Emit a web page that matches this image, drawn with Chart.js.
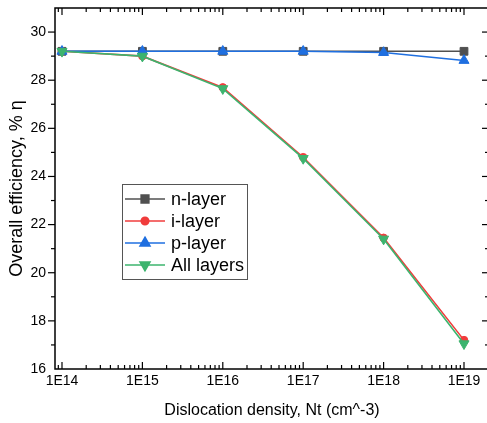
<!DOCTYPE html>
<html>
<head>
<meta charset="utf-8">
<script src="https://cdn.jsdelivr.net/npm/chart.js@4.4.0/dist/chart.umd.min.js"></script>
<style>
  html, body { margin: 0; padding: 0; background: #fff; overflow: hidden; }
  #wrap { width: 496px; height: 423px; }
</style>
</head>
<body>
<div id="wrap"><canvas id="effChart" width="496" height="423"></canvas></div>
<script>
const densities = [1e14, 1e15, 1e16, 1e17, 1e18, 1e19];
const densityLabels = ["1E14", "1E15", "1E16", "1E17", "1E18", "1E19"];
const nLayer = [29.2, 29.2, 29.2, 29.2, 29.2, 29.2];
const iLayer = [29.2, 29.0, 27.7, 24.8, 21.45, 17.2];
const pLayer = [29.2, 29.2, 29.2, 29.2, 29.15, 28.82];
const allLayers = [29.2, 29.0, 27.65, 24.75, 21.4, 17.05];
const yTicks = [16, 18, 20, 22, 24, 26, 28, 30];

const FONT = "'Liberation Sans', Arial, sans-serif";

const series = [
  { label: "n-layer", data: nLayer, color: "#505050", style: "rect", radius: 5.5, rot: 0, order: 3 },
  { label: "i-layer", data: iLayer, color: "#f03c3c", style: "circle", radius: 3.8, rot: 0, order: 2 },
  { label: "p-layer", data: pLayer, color: "#1f6fe0", style: "triangle", radius: 5.8, rot: 0, order: 1 },
  { label: "All layers", data: allLayers, color: "#3cb46e", style: "triangle", radius: 5.8, rot: 180, order: 0 },
];

// box frame + inside/outside tick marks like the original plot
const frameTicks = {
  id: "frameTicks",
  beforeDatasetsDraw(chart) {
    const { ctx, chartArea: a, scales: { x, y } } = chart;
    ctx.save();
    ctx.strokeStyle = "#000";
    ctx.lineWidth = 1.5;
    ctx.strokeRect(a.left, a.top, a.right - a.left, a.bottom - a.top);
    ctx.lineWidth = 1.2;
    const seg = (x1, y1, x2, y2) => {
      ctx.beginPath(); ctx.moveTo(x1, y1); ctx.lineTo(x2, y2); ctx.stroke();
    };
    for (let e = 13; e <= 19; e++) {
      for (let k = 1; k <= 9; k++) {
        const px = x.getPixelForValue(k * Math.pow(10, e));
        if (px < a.left + 1 || px > a.right - 1) continue;
        const len = k === 1 ? 7 : 4;
        seg(px, a.bottom, px, a.bottom - len);
        seg(px, a.top, px, a.top + len);
      }
    }
    for (let v = 16; v <= 31; v++) {
      const py = y.getPixelForValue(v);
      if (py < a.top + 1 || py > a.bottom - 1) continue;
      const len = v % 2 === 0 ? 7 : 4;
      seg(a.left - len, py, a.left, py);
      seg(a.right, py, a.right - len, py);
    }
    ctx.restore();
  }
};

const legendBox = {
  id: "legendBox",
  afterDatasetsDraw(chart) {
    const { ctx } = chart;
    const x0 = 122, y0 = 184, w = 125, h = 95;
    ctx.save();
    ctx.fillStyle = "#fff";
    ctx.fillRect(x0, y0, w, h);
    ctx.strokeStyle = "#555";
    ctx.lineWidth = 1;
    ctx.strokeRect(x0 + 0.5, y0 + 0.5, w, h);
    ctx.font = "18px " + FONT;
    ctx.textBaseline = "middle";
    series.forEach((s, i) => {
      const cy = y0 + 15 + i * 22;
      ctx.strokeStyle = s.color;
      ctx.lineWidth = 1.5;
      ctx.beginPath(); ctx.moveTo(x0 + 3, cy); ctx.lineTo(x0 + 43, cy); ctx.stroke();
      ctx.fillStyle = s.color;
      Chart.helpers.drawPoint(ctx, { pointStyle: s.style, radius: s.radius, rotation: s.rot, borderWidth: 1 }, x0 + 23, cy);
      ctx.fill();
      ctx.fillStyle = "#000";
      ctx.fillText(s.label, x0 + 49, cy + 1);
    });
    ctx.restore();
  }
};

new Chart(document.getElementById("effChart"), {
  type: "line",
  data: {
    datasets: series.map(s => ({
      label: s.label,
      data: s.data.map((v, i) => ({ x: densities[i], y: v })),
      borderColor: s.color,
      backgroundColor: s.color,
      borderWidth: 1.6,
      pointStyle: s.style,
      pointRadius: s.radius,
      pointRotation: s.rot,
      pointBorderWidth: 1,
      order: s.order,
      clip: false,
    })),
  },
  options: {
    responsive: false,
    animation: false,
    layout: { padding: { left: 0, top: 8, right: 7, bottom: 0 } },
    plugins: { legend: { display: false }, tooltip: { enabled: false } },
    scales: {
      x: {
        type: "logarithmic",
        min: Math.pow(10, 13.913),
        max: Math.pow(10, 19.311),
        grid: { display: false, drawTicks: false },
        border: { display: false },
        afterBuildTicks: s => { s.ticks = densities.map(v => ({ value: v })); },
        afterFit: s => { s.height = 54; s.paddingLeft = 0; s.paddingRight = 0; },
        ticks: {
          callback: (v, i) => densityLabels[i],
          font: { family: FONT, size: 14 },
          color: "#000",
          padding: 4,
          maxRotation: 0,
          autoSkip: false,
        },
        title: {
          display: true,
          text: "Dislocation density, Nt (cm^-3)",
          font: { family: FONT, size: 16 },
          color: "#000",
          padding: { top: 0, bottom: 3 },
        },
      },
      y: {
        min: 16,
        max: 31,
        grid: { display: false, drawTicks: false },
        border: { display: false },
        afterBuildTicks: s => { s.ticks = yTicks.map(v => ({ value: v })); },
        afterFit: s => { s.width = 55; s.paddingTop = 0; s.paddingBottom = 0; },
        ticks: {
          font: { family: FONT, size: 14 },
          color: "#000",
          padding: 9,
        },
        title: {
          display: true,
          text: "Overall efficiency, % η",
          font: { family: FONT, size: 18 },
          color: "#000",
          padding: { top: 6, bottom: 0 },
        },
      },
    },
  },
  plugins: [frameTicks, legendBox],
});
</script>
</body>
</html>
